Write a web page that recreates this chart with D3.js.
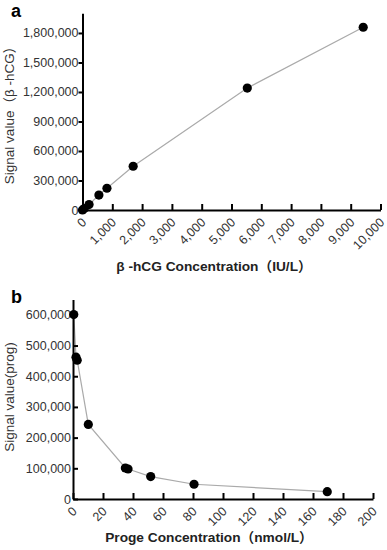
<!DOCTYPE html>
<html>
<head>
<meta charset="utf-8">
<script src="https://cdn.jsdelivr.net/npm/d3@7"></script>
<style>
    body { margin: 0; background: #fff; }
    svg { display: block; font-family: "Liberation Sans", Arial, "Noto Sans CJK SC", sans-serif; }
    .axis path, .axis line { stroke: #000; stroke-width: 2px; }
    .axis text { font-size: 12.5px; fill: #333; }
    .line { fill: none; stroke: #aaa; stroke-width: 1.2px; }
    .dot { fill: #000; }
    .title { font-size: 13.7px; font-weight: bold; fill: #222; }
    .ylabel { font-size: 13.5px; fill: #333; }
    .panel { font-size: 18px; font-weight: bold; fill: #000; }
</style>
</head>
<body>
<svg id="chart" width="387" height="550"></svg>
<script>
// panel a: beta-hCG standard curve
var hcgConc = [0, 60, 220, 550, 820, 1700, 5530, 9420]
var hcgSignal = [0, 15000, 55000, 152000, 221000, 445000, 1240000, 1858000]
var hcgXTicks = [0, 1000, 2000, 3000, 4000, 5000, 6000, 7000, 8000, 9000, 10000]
var hcgYTicks = [0, 300000, 600000, 900000, 1200000, 1500000, 1800000]

// panel b: progesterone standard curve
var progConc = [0.5, 2, 2.8, 10.2, 34.9, 36.7, 51.8, 80.7, 169.5]
var progSignal = [601000, 462000, 452000, 243000, 101000, 97700, 73000, 48000, 24000]
var progXTicks = [0, 20, 40, 60, 80, 100, 120, 140, 160, 180, 200]
var progYTicks = [0, 100000, 200000, 300000, 400000, 500000, 600000]

var svg = d3.select("#chart")

function drawCurve(options) {
    var left = options.left,
        right = options.right,
        top = options.top,
        bottom = options.bottom,
        xs = options.xs,
        ys = options.ys

    var x = d3.scaleLinear().domain(options.xDomain).range([left, right]),
        y = d3.scaleLinear().domain(options.yDomain).range([bottom, top])

    var g = svg.append("g")

    // connecting line
    var line = d3.line()
        .x(function(d) { return x(d[0]) })
        .y(function(d) { return y(d[1]) })

    var pts = xs.map(function(v, i) { return [v, ys[i]] })

    g.append("path")
        .datum(pts)
        .attr("class", "line")
        .attr("d", line)

    // x axis, ticks point up into the plot
    var xAxis = g.append("g")
        .attr("class", "axis")
        .attr("transform", "translate(0," + bottom + ")")
        .call(d3.axisBottom(x).tickValues(options.xTicks).tickSize(-6).tickSizeOuter(0).tickFormat(d3.format(",")))

    xAxis.selectAll("text")
        .attr("text-anchor", "end")
        .attr("dy", "0.35em")
        .attr("y", 0)
        .attr("transform", "translate(1,10) rotate(-45)")

    // y axis
    g.append("g")
        .attr("class", "axis")
        .attr("transform", "translate(" + left + ",0)")
        .call(d3.axisLeft(y).tickValues(options.yTicks).tickSize(options.yTickSize).tickSizeOuter(0)
            .tickPadding(options.yPad).tickFormat(d3.format(",")))

    // dots
    g.selectAll(".dot")
        .data(pts)
        .enter().append("circle")
        .attr("class", "dot")
        .attr("cx", function(d) { return x(d[0]) })
        .attr("cy", function(d) { return y(d[1]) })
        .attr("r", 4.6)

    // x label
    g.append("text")
        .attr("class", "title")
        .attr("text-anchor", "middle")
        .attr("x", options.xTitleX)
        .attr("y", options.xTitleY)
        .text(options.xTitle)

    // y label
    g.append("text")
        .attr("class", "ylabel")
        .attr("text-anchor", "middle")
        .attr("transform", "translate(14," + options.yTitleY + ") rotate(-90)")
        .text(options.yTitle)

    // panel letter
    g.append("text")
        .attr("class", "panel")
        .attr("x", 11)
        .attr("y", options.panelY)
        .text(options.panel)
}

drawCurve({
    xs: hcgConc, ys: hcgSignal,
    xDomain: [0, 10000], yDomain: [0, 2000000],
    left: 82.5, right: 380.5, top: 13.3, bottom: 210,
    xTicks: hcgXTicks, yTicks: hcgYTicks,
    yTickSize: 4, yPad: 0,
    xTitle: "β -hCG Concentration（IU/L）", xTitleX: 214, xTitleY: 271,
    yTitle: "Signal value（β -hCG）", yTitleY: 112,
    panel: "a", panelY: 17
})

drawCurve({
    xs: progConc, ys: progSignal,
    xDomain: [0, 200], yDomain: [0, 650000],
    left: 73, right: 373, top: 299.5, bottom: 499,
    xTicks: progXTicks, yTicks: progYTicks,
    yTickSize: -5, yPad: 2,
    xTitle: "Proge Concentration（nmol/L）", xTitleX: 209, xTitleY: 542,
    yTitle: "Signal value(prog)", yTitleY: 397,
    panel: "b", panelY: 303
})
</script>
</body>
</html>
